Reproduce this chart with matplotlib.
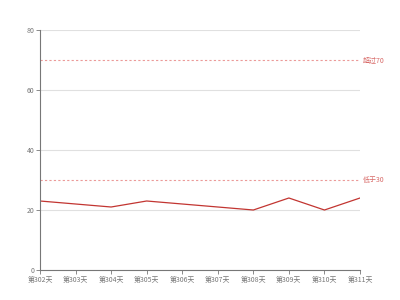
import matplotlib
matplotlib.use('Agg')
import matplotlib.pyplot as plt

plt.rcParams['font.family'] = ['Noto Sans CJK SC', 'DejaVu Sans']

days = ['第302天', '第303天', '第304天', '第305天', '第306天',
        '第307天', '第308天', '第309天', '第310天', '第311天']
values = [23, 22, 21, 23, 22, 21, 20, 24, 20, 24]
upper = 70
lower = 30
upper_label = '超过70'
lower_label = '低于30'

fig = plt.figure(figsize=(4, 3), dpi=100)
ax = fig.add_axes([0.1, 0.1, 0.8, 0.8])

x = list(range(len(days)))
ax.plot(x, values, color='#c23531', linewidth=0.9)

# mark lines
ax.axhline(upper, color='#eb9a98', linestyle=(0, (2, 2)), linewidth=0.8)
ax.axhline(lower, color='#eb9a98', linestyle=(0, (2, 2)), linewidth=0.8)
ax.text(len(days) - 1 + 0.08, upper, upper_label, color='#d86a68', fontsize=5, va='center', ha='left')
ax.text(len(days) - 1 + 0.08, lower, lower_label, color='#d86a68', fontsize=5, va='center', ha='left')

ax.set_xlim(0, len(days) - 1)
ax.set_ylim(0, 80)
ax.set_xticks(x)
ax.set_xticklabels(days)
ax.set_yticks([0, 20, 40, 60, 80])
ax.yaxis.grid(True, color='#e0e0e0', linewidth=0.8)
ax.set_axisbelow(True)

for s in ['top', 'right']:
    ax.spines[s].set_visible(False)
for s in ['left', 'bottom']:
    ax.spines[s].set_color('#777777')
    ax.spines[s].set_linewidth(0.8)
ax.tick_params(axis='both', labelsize=5, colors='#777777', length=3, width=0.6, pad=1)

fig.savefig('out.png', dpi=100)
